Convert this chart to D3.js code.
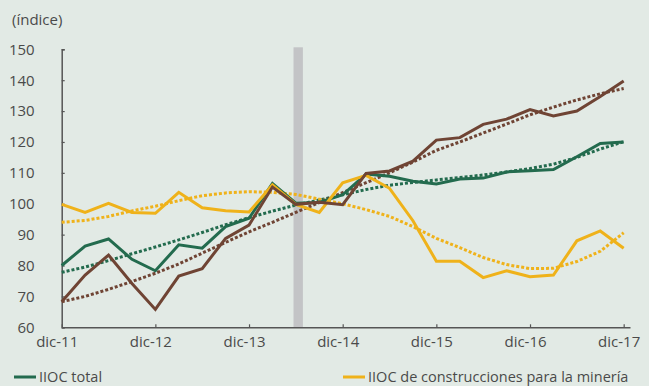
<!DOCTYPE html>
<html>
<head>
<meta charset="utf-8">
<script src="https://cdn.jsdelivr.net/npm/d3@7"></script>
<style>
  html, body { margin: 0; padding: 0; background: #e2eae5; }
  svg { display: block; }
  text { font-family: "Open Sans", sans-serif; fill: #4a4a4a; }
</style>
</head>
<body>
<svg id="chart" width="649" height="386"></svg>
<script>
// Quarterly periods, dic-11 .. dic-17
const quarters = [
  "dic-11","mar-12","jun-12","sep-12","dic-12","mar-13","jun-13","sep-13",
  "dic-13","mar-14","jun-14","sep-14","dic-14","mar-15","jun-15","sep-15",
  "dic-15","mar-16","jun-16","sep-16","dic-16","mar-17","jun-17","sep-17","dic-17"
];
const yearTicks = ["dic-11","dic-12","dic-13","dic-14","dic-15","dic-16","dic-17"];
const yTicks = [60, 70, 80, 90, 100, 110, 120, 130, 140, 150];

// IIOC total
const total = [80.0, 86.3, 88.6, 82.0, 78.3, 86.7, 85.6, 92.6, 95.3, 106.6, 100.2, 100.4, 102.9,
               109.6, 108.9, 107.3, 106.4, 108.0, 108.3, 110.3, 110.7, 111.1, 115.2, 119.5, 120.0];
const totalTrend = [77.8, 79.5, 81.6, 83.8, 86.0, 88.3, 90.7, 93.2, 95.5, 97.6, 99.6, 101.2, 102.9,
                    104.6, 106.0, 106.9, 107.7, 108.5, 109.3, 110.3, 111.4, 112.8, 115.0, 117.7, 120.1];

// Second construction index (brown)
const edif = [68.3, 76.9, 83.4, 74.2, 65.8, 76.6, 79.0, 88.8, 93.1, 105.4, 99.8, 100.5, 99.7,
              109.8, 110.6, 113.8, 120.6, 121.4, 125.7, 127.4, 130.5, 128.4, 130.0, 134.7, 139.7];
const edifTrend = [68.3, 70.0, 72.3, 74.8, 77.5, 80.5, 84.0, 87.5, 90.9, 94.0, 97.2, 100.4, 103.6,
                   106.8, 110.0, 113.5, 117.3, 120.0, 122.9, 125.8, 128.8, 131.3, 133.6, 135.6, 137.3];

// IIOC de construcciones para la minería
const mineria = [99.8, 97.2, 100.1, 97.2, 96.9, 103.7, 98.7, 97.7, 97.3, 106.1, 99.8, 97.2, 106.8,
                 109.2, 105.0, 94.5, 81.4, 81.4, 76.1, 78.3, 76.4, 76.9, 88.0, 91.2, 85.6];
const mineriaTrend = [94.0, 94.6, 95.9, 97.7, 99.2, 101.0, 102.6, 103.5, 103.9, 103.7, 103.0, 101.5, 100.0,
                      98.1, 95.9, 92.6, 88.8, 85.8, 82.6, 80.3, 79.0, 79.1, 81.3, 84.6, 90.6];

// Shaded period (in quarter units, around jun-14)
const shadedPeriod = [9.9, 10.3];

const legendItems = [
  { label: "IIOC total", color: "#236b4e" },
  { label: "IIOC de construcciones para la minería", color: "#efb21a" }
];

const svg = d3.select("#chart");

const x = d3.scaleLinear().domain([0, 24.27]).range([61.7, 630]);
const y = d3.scaleLinear().domain([60, 150]).range([327.3, 49.3]);

const colors = { total: "#236b4e", edif: "#6f4434", mineria: "#efb21a" };

// shaded band
svg.append("rect")
  .attr("x", x(shadedPeriod[0]))
  .attr("width", x(shadedPeriod[1]) - x(shadedPeriod[0]))
  .attr("y", y(150) - 2)
  .attr("height", y(60) - y(150) + 2)
  .attr("fill", "#c3c4c6");

// axes
const yAxis = d3.axisLeft(y).tickValues(yTicks).tickSizeInner(-3).tickSizeOuter(-3).tickPadding(27);
const gy = svg.append("g").attr("transform", `translate(${x(0)},0)`).call(yAxis);
gy.selectAll("text").style("font-size", "15px").attr("fill", "#4a4a4a");

const xAxis = d3.axisBottom(x)
  .tickValues(yearTicks.map(t => quarters.indexOf(t)))
  .tickFormat(i => quarters[i])
  .tickSizeInner(-3).tickSizeOuter(0).tickPadding(9);
const gx = svg.append("g").attr("transform", `translate(0,${y(60)})`).call(xAxis);
gx.selectAll("text").style("font-size", "15px").attr("fill", "#4a4a4a").attr("dx", -5);

[gx, gy].forEach(g => {
  g.select(".domain").attr("stroke", "#555").attr("stroke-width", 1.5);
  g.selectAll(".tick line").attr("stroke", "#555").attr("stroke-width", 1.2);
});

const line = d3.line().x((d, i) => x(i)).y(d => y(d));

const series = [
  { values: totalTrend, color: colors.total, dotted: true },
  { values: mineriaTrend, color: colors.mineria, dotted: true },
  { values: edifTrend, color: colors.edif, dotted: true },
  { values: total, color: colors.total },
  { values: mineria, color: colors.mineria },
  { values: edif, color: colors.edif }
];

svg.append("g").selectAll("path").data(series).join("path")
  .attr("d", d => line(d.values))
  .attr("fill", "none")
  .attr("stroke", d => d.color)
  .attr("stroke-width", 3)
  .attr("stroke-linejoin", "miter")
  .attr("stroke-dasharray", d => d.dotted ? "3,2" : null);

// unit label
svg.append("text").attr("x", 12).attr("y", 25).style("font-size", "15px").text("(índice)");

// legend
const legendX = [14, 343];
const lg = svg.append("g").selectAll("g").data(legendItems).join("g")
  .attr("transform", (d, i) => `translate(${legendX[i]},377)`);
lg.append("line").attr("x1", 0).attr("x2", 22).attr("stroke", d => d.color).attr("stroke-width", 3);
lg.append("text").attr("x", 25).attr("y", 4.5).style("font-size", "14.5px").text(d => d.label);
</script>
</body>
</html>
